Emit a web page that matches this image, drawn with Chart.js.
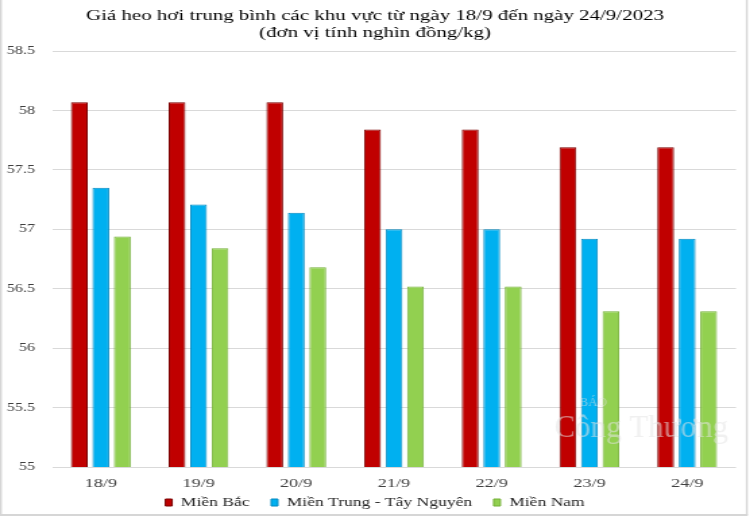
<!DOCTYPE html>
<html>
<head>
<meta charset="utf-8">
<script src="https://cdn.jsdelivr.net/npm/chart.js@4"></script>
<style>
  html, body { margin: 0; padding: 0; background: #ffffff; overflow: hidden; }
  #wrap { width: 556px; height: 517px; position: relative; transform: scaleX(1.349); transform-origin: 0 0; }
</style>
</head>
<body>
<div id="wrap"><canvas id="c"></canvas></div>
<script>
const categories = ["18/9", "19/9", "20/9", "21/9", "22/9", "23/9", "24/9"];
const mienBac = [58.07, 58.07, 58.07, 57.84, 57.84, 57.69, 57.69];
const mienTrung = [57.35, 57.21, 57.14, 57.00, 57.00, 56.92, 56.92];
const mienNam = [56.94, 56.84, 56.68, 56.52, 56.52, 56.31, 56.31];
const seriesNames = ["Miền Bắc", "Miền Trung - Tây Nguyên", "Miền Nam"];
const titleLines = ["Giá heo hơi trung bình các khu vực từ ngày 18/9 đến ngày 24/9/2023", "(đơn vị tính nghìn đồng/kg)"];
const yMin = 55, yMax = 58.5, yStep = 0.5;

const STRETCH = 1.349;
const serif = "'Liberation Serif', 'Times New Roman', serif";

const framePlugin = {
  id: 'frame',
  afterDraw(chart) {
    const ctx = chart.ctx;
    ctx.save();
    ctx.strokeStyle = '#d6d6d6';
    ctx.lineWidth = 1.4;
    ctx.beginPath();
    ctx.moveTo(0.7, 0); ctx.lineTo(0.7, 515);
    ctx.moveTo(553.6, 0); ctx.lineTo(553.6, 515);
    ctx.stroke();
    ctx.lineWidth = 2;
    ctx.beginPath();
    ctx.moveTo(0, 515); ctx.lineTo(554.3, 515);
    ctx.stroke();
    ctx.restore();
  }
};

const legendShiftPlugin = {
  id: 'legendShift',
  afterLayout(chart) {
    const lg = chart.legend;
    if (!lg) return;
    const h = lg.height;
    lg.top = 480;
    lg.bottom = 480 + h;
  }
};

const watermarkPlugin = {
  id: 'watermark',
  afterDatasetsDraw(chart) {
    const ctx = chart.ctx;
    ctx.save();
    ctx.translate(411, 0);
    ctx.scale(1 / STRETCH, 1);
    ctx.fillStyle = 'rgba(228,228,228,0.55)';
    ctx.textBaseline = 'alphabetic';
    ctx.font = "13px " + serif;
    ctx.fillText('BÁO', 25, 406);
    ctx.font = "31px " + serif;
    ctx.fillText('Công Thương', 0, 437);
    ctx.restore();
  }
};

new Chart(document.getElementById('c'), {
  type: 'bar',
  data: {
    labels: categories,
    datasets: [
      { label: seriesNames[0], data: mienBac, backgroundColor: '#C00000', borderColor: '#7a0000', borderWidth: 1 },
      { label: seriesNames[1], data: mienTrung, backgroundColor: '#00B0F0', borderColor: '#0088c0', borderWidth: 1 },
      { label: seriesNames[2], data: mienNam, backgroundColor: '#92D050', borderColor: '#74b038', borderWidth: 1 }
    ]
  },
  options: {
    responsive: true,
    maintainAspectRatio: false,
    animation: false,
    categoryPercentage: 0.66,
    barPercentage: 0.78,
    layout: { padding: { left: 0, right: 0, top: 0, bottom: -21.2 } },
    plugins: {
      title: {
        display: true,
        text: titleLines,
        color: '#000000',
        font: { family: serif, size: 15.5, weight: 'normal', lineHeight: 1.1 },
        padding: { top: 7, bottom: 10 }
      },
      legend: {
        position: 'bottom',
        labels: {
          boxWidth: 5,
          boxHeight: 7,
          padding: 16,
          color: '#262626',
          font: { family: serif, size: 13 }
        }
      },
      tooltip: { enabled: false }
    },
    scales: {
      x: {
        grid: { display: false, drawTicks: false },
        border: { display: false },
        ticks: { color: '#404040', font: { family: serif, size: 13.5 }, padding: 8 }
      },
      y: {
        min: yMin,
        max: yMax,
        afterFit(scale) { scale.width = 38.5; },
        grid: { color: '#d9d9d9', drawTicks: false },
        border: { display: false },
        ticks: {
          stepSize: yStep,
          color: '#404040',
          padding: 12.5,
          font: { family: serif, size: 12 },
          callback: (v) => String(Math.round(v * 10) / 10)
        }
      },
      yRightMargin: {
        type: 'linear',
        position: 'right',
        display: true,
        afterFit(scale) { scale.width = 10.4; },
        grid: { display: false, drawTicks: false },
        border: { display: false },
        ticks: { display: false }
      }
    }
  },
  plugins: [framePlugin, watermarkPlugin, legendShiftPlugin]
});
</script>
</body>
</html>
